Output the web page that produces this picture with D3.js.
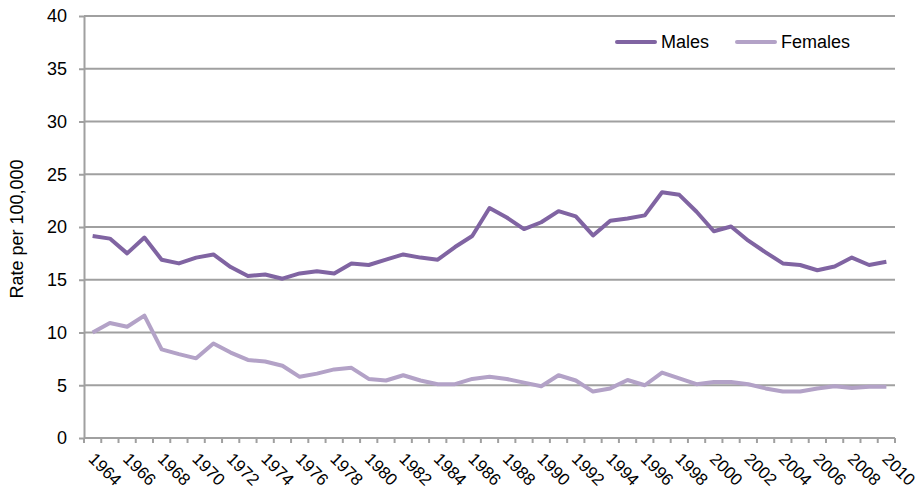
<!DOCTYPE html>
<html>
<head>
<meta charset="utf-8">
<script src="https://cdn.jsdelivr.net/npm/d3@7"></script>
<style>
  body { margin: 0; background: #fff; }
  text { font-family: "Liberation Sans", Arial, sans-serif; fill: #000; }
</style>
</head>
<body>
<svg id="chart" width="923" height="492"></svg>
<script>
const width = 923;
const height = 492;

// data
const years = d3.range(1964, 2011);
const males = [19.15, 18.9, 17.5, 19.0, 16.9, 16.55, 17.1, 17.4, 16.2, 15.35,
  15.5, 15.1, 15.6, 15.8, 15.6, 16.55, 16.4, 16.9, 17.4, 17.1,
  16.9, 18.1, 19.15, 21.8, 20.9, 19.8, 20.45, 21.5, 21.0, 19.2,
  20.6, 20.8, 21.1, 23.3, 23.05, 21.45, 19.6, 20.05, 18.7, 17.6,
  16.55, 16.4, 15.9, 16.25, 17.1, 16.4, 16.7];
const females = [10.0, 10.9, 10.55, 11.6, 8.4, 7.95, 7.55, 8.95, 8.1, 7.4,
  7.25, 6.85, 5.8, 6.1, 6.5, 6.65, 5.6, 5.45, 5.95, 5.45,
  5.1, 5.1, 5.6, 5.8, 5.6, 5.25, 4.9, 5.95, 5.45, 4.4,
  4.7, 5.5, 5.0, 6.2, 5.65, 5.1, 5.3, 5.3, 5.1, 4.7,
  4.4, 4.4, 4.7, 4.9, 4.75, 4.85, 4.85];
const yTicks = [0, 5, 10, 15, 20, 25, 30, 35, 40];

const series = [
  { name: "Males", values: males, color: "#8064a2" },
  { name: "Females", values: females, color: "#b3a2c7" }
];

const margin = { top: 16, bottom: 54, left: 84, right: 28 };

const svg = d3.select("svg#chart");
const plot = svg.append("g").attr("transform", translate(margin.left, margin.top));

const plotWidth = width - margin.left - margin.right;
const plotHeight = height - margin.top - margin.bottom;

const x = d3.scaleBand().domain(years).range([0, plotWidth]);
const y = d3.scaleLinear().domain([0, 40]).range([plotHeight, 0]);

/* GRID + Y AXIS */
const yAxis = d3.axisLeft(y).tickValues(yTicks).tickSize(5).tickPadding(12).tickSizeOuter(0);
const yGroup = plot.append("g").call(yAxis);
yGroup.select(".domain").attr("stroke", "#a0a0a0").attr("stroke-width", 2);
yGroup.selectAll(".tick line").attr("stroke", "#a0a0a0").attr("stroke-width", 2);
yGroup.selectAll(".tick text").style("font-size", "18px");

plot.append("g").selectAll("line")
  .data(yTicks.filter(d => d > 0))
  .enter().append("line")
  .attr("x1", 0).attr("x2", plotWidth)
  .attr("y1", d => y(d)).attr("y2", d => y(d))
  .attr("stroke", "#a0a0a0").attr("stroke-width", 2);

/* X AXIS */
const xGroup = plot.append("g").attr("transform", translate(0, plotHeight));
xGroup.append("line")
  .attr("x1", 0).attr("x2", plotWidth)
  .attr("stroke", "#a0a0a0").attr("stroke-width", 2);
xGroup.selectAll("line.tick")
  .data(years.concat([2011]))
  .enter().append("line")
  .attr("class", "tick")
  .attr("x1", d => d === 2011 ? plotWidth : x(d))
  .attr("x2", d => d === 2011 ? plotWidth : x(d))
  .attr("y1", 0).attr("y2", 5)
  .attr("stroke", "#a0a0a0").attr("stroke-width", 2);
xGroup.selectAll("text")
  .data(years.filter(d => d % 2 === 0))
  .enter().append("text")
  .attr("transform", d => translate(x(d) + x.bandwidth() / 2 + 4, 13) + " rotate(45)")
  .attr("dy", "0.75em")
  .style("font-size", "17px")
  .text(d => d);

/* Y TITLE */
svg.append("text")
  .attr("transform", translate(23, 229) + " rotate(-90)")
  .attr("text-anchor", "middle")
  .style("font-size", "18px")
  .text("Rate per 100,000");

/* LINES */
const line = d3.line()
  .x((d, i) => x(years[i]) + x.bandwidth() / 2)
  .y(d => y(d));

plot.selectAll("path.series")
  .data(series)
  .enter().append("path")
  .attr("class", "series")
  .attr("d", d => line(d.values))
  .attr("fill", "none")
  .attr("stroke", d => d.color)
  .attr("stroke-width", 4)
  .attr("stroke-linejoin", "round");

/* LEGEND */
const legend = svg.append("g").attr("transform", translate(617, 42));
const items = legend.selectAll("g")
  .data(series)
  .enter().append("g")
  .attr("transform", (d, i) => translate(i * 120, 0));
items.append("line")
  .attr("x1", 0).attr("x2", 38)
  .attr("stroke", d => d.color)
  .attr("stroke-width", 4)
  .attr("stroke-linecap", "round");
items.append("text")
  .attr("x", 44).attr("dy", "0.35em")
  .style("font-size", "18px")
  .text(d => d.name);

function translate(x, y) {
  return "translate(" + String(x) + "," + String(y) + ")";
}
</script>
</body>
</html>
